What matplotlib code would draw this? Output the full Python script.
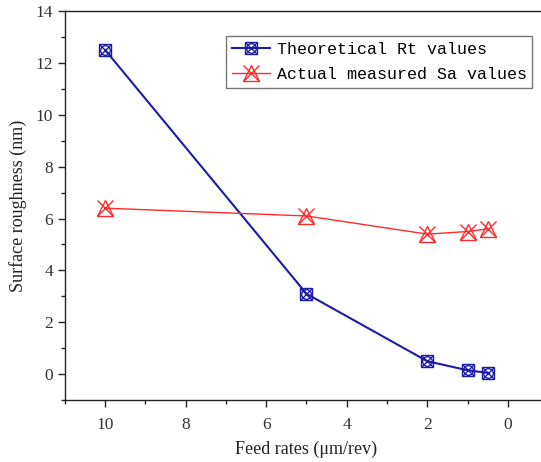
import matplotlib
matplotlib.use('Agg')
import matplotlib.pyplot as plt
from matplotlib.legend_handler import HandlerTuple
from matplotlib.ticker import MultipleLocator

feed = [10, 5, 2, 1, 0.5]
rt_theory = [12.5, 3.1, 0.5, 0.15, 0.05]
sa_measured = [6.4, 6.1, 5.4, 5.5, 5.6]

blue = '#1c1ca8'
red = '#ff2a2a'

plt.rcParams['font.family'] = 'Liberation Serif'

fig = plt.figure(figsize=(5.41, 4.62), dpi=100)
ax = fig.add_axes([0.120, 0.134, 0.893, 0.842])

# theoretical Rt: line + boxed circle with a cross
l1, = ax.plot(feed, rt_theory, color=blue, lw=1.5, marker='s', ms=9,
              mfc='none', mec=blue, mew=1.0)
m1, = ax.plot(feed, rt_theory, ls='none', marker='o', ms=7,
              mfc='none', mec=blue, mew=1.0)
x1, = ax.plot(feed, rt_theory, ls='none', marker='x', ms=9,
              mec=blue, mew=1.0)

# measured Sa: line + triangle with a cross
l2, = ax.plot(feed, sa_measured, color=red, lw=1.0, marker='^', ms=12,
              mfc='none', mec=red, mew=1.0)
x2, = ax.plot(feed, sa_measured, ls='none', marker='x', ms=11,
              mec=red, mew=1.0)

ax.set_xlim(11, -1)
ax.set_ylim(-1, 14)
ax.xaxis.set_major_locator(MultipleLocator(2))
ax.xaxis.set_minor_locator(MultipleLocator(1))
ax.yaxis.set_major_locator(MultipleLocator(2))
ax.yaxis.set_minor_locator(MultipleLocator(1))
ax.tick_params(which='both', direction='out', labelsize=12.5, colors='#222222',
               labelcolor='#333333')
ax.tick_params(which='major', length=5, width=1)
ax.tick_params(which='minor', length=3, width=1)
ax.tick_params(axis='x', which='major', pad=7)
for s in ax.spines.values():
    s.set_linewidth(1.0)
    s.set_color('#222222')

ax.set_xlabel('Feed rates (μm/rev)', fontsize=13, color='#222222', labelpad=6)
ax.set_ylabel('Surface roughness (nm)', fontsize=13, color='#222222', labelpad=6)

leg = ax.legend([(l1, m1, x1), (l2, x2)],
                ['Theoretical Rt values', 'Actual measured Sa values'],
                handler_map={tuple: HandlerTuple(ndivide=1)},
                loc='upper left', bbox_to_anchor=(0.333, 0.936),
                prop={'family': 'Liberation Mono', 'size': 12},
                fancybox=False, framealpha=1, edgecolor='#777777',
                handlelength=2.3, handletextpad=0.4, borderpad=0.35,
                labelspacing=0.6, borderaxespad=0)
leg.get_frame().set_linewidth(1.0)

fig.savefig('out.png', dpi=100)
